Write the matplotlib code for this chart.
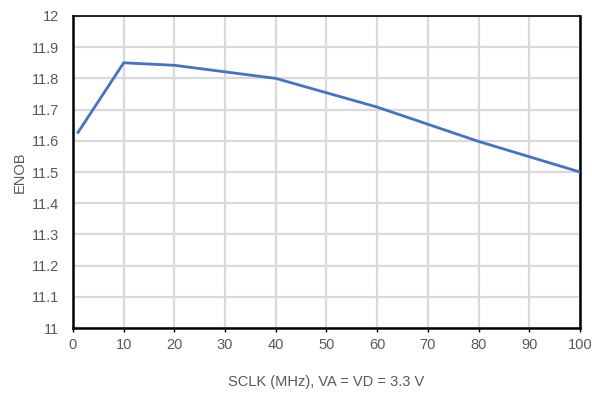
import matplotlib
matplotlib.use("Agg")
import matplotlib.pyplot as plt

# ENOB vs SCLK, VA = VD = 3.3 V
sclk_mhz = [1, 10, 20, 40, 60, 80, 100]
enob = [11.627, 11.85, 11.842, 11.80, 11.708, 11.598, 11.50]

x_ticks = list(range(0, 101, 10))
y_ticks = [11 + 0.1 * i for i in range(11)]
y_labels = ["11", "11.1", "11.2", "11.3", "11.4", "11.5", "11.6", "11.7", "11.8", "11.9", "12"]

plt.rcParams["font.family"] = ["Liberation Sans", "DejaVu Sans"]

fig = plt.figure(figsize=(5.92, 3.94), dpi=100)
ax = fig.add_axes([0.1233, 0.1675, 0.8564, 0.7919])

ax.plot(sclk_mhz, enob, color="#4472C4", lw=2.0, solid_joinstyle="miter", zorder=3)

ax.set_xlim(0, 100)
ax.set_ylim(11, 12)
ax.set_xticks(x_ticks)
ax.set_yticks(y_ticks)
ax.set_yticklabels(y_labels)
ax.grid(True, color="#D9D9D9", lw=1.6, zorder=0)
ax.set_axisbelow(True)

for side in ("left", "bottom", "right"):
    ax.spines[side].set_linewidth(1.8)
    ax.spines[side].set_color("black")
ax.spines["top"].set_linewidth(1.2)
ax.spines["top"].set_color("black")

ax.tick_params(axis="x", length=3, width=1, color="black", labelsize=10.5,
               labelcolor="#595959", pad=4)
ax.tick_params(axis="y", length=0, labelsize=10.5, labelcolor="#595959", pad=10)

ax.set_xlabel("SCLK (MHz), VA = VD = 3.3 V", fontsize=10.5, color="#595959", labelpad=17)
ax.set_ylabel("ENOB", fontsize=10.5, color="#595959", labelpad=4)

fig.savefig("out.png", dpi=100)
